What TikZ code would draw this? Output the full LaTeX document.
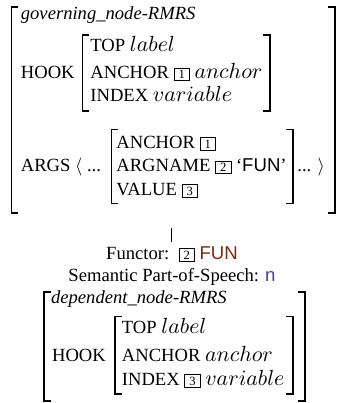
\documentclass[tikz,border=0pt]{standalone}
\usepackage{fontspec}
\setmainfont{Liberation Serif}
\newfontfamily\sansf{Liberation Sans}
\usepackage{amsmath}
\definecolor{funred}{RGB}{125,40,20}
\definecolor{posblue}{RGB}{75,60,165}
\newcommand\tagbox[1]{{\setlength\fboxsep{0.8pt}\setlength\fboxrule{0.4pt}\fbox{\fontsize{6.3pt}{7pt}\selectfont\hspace{1.3pt}#1\hspace{1.3pt}}}}
\newcommand\mv[1]{{\fontsize{10.5pt}{12pt}\selectfont$#1$}}

\begin{document}
\begin{tikzpicture}
		[x=0.5pt,y=-0.5pt,
		font=\fontsize{9.3pt}{11pt}\selectfont,
		txt/.style ={inner sep=0pt, anchor=base west},
		ctxt/.style ={inner sep=0pt, anchor=base},
		brk/.style ={draw=black, line width=0.8pt},
		tick/.style ={draw=black, line width=0.5pt},
		]
		\useasboundingbox (0,0) rectangle (337,403);

		% governing node
		\coordinate (govNW) at (11.5,7);
		\coordinate (govSE) at (335,213);
		\coordinate (hookaNW) at (82.5,35);
		\coordinate (hookaSE) at (270,111);
		\coordinate (argNW) at (111.5,129.5);
		\coordinate (argSE) at (293,203.5);

		\draw (20.5,19) node[txt] (govtitle) {\textit{governing\_node-RMRS}};
		\draw (20.5,78.3) node[txt] (hooka) {HOOK};
		\draw (90,51.7) node[txt] (topa) {TOP \mv{label}};
		\draw (90,78.3) node[txt] (anchora) {ANCHOR \tagbox{1} \mv{anchor}};
		\draw (90,101.7) node[txt] (indexa) {INDEX \mv{variable}};
		\draw (20.5,171.7) node[txt] (args) {ARGS $\langle$ ...};
		\draw (116,148) node[txt] (arganchor) {ANCHOR \tagbox{1}};
		\draw (116,171.7) node[txt] (argname) {ARGNAME \tagbox{2} `{\sansf FUN}'};
		\draw (116,195) node[txt] (argvalue) {VALUE \tagbox{3}};
		\draw (297,171.7) node[txt] (argsend) {... $\rangle$};

		\draw[brk] (govNW) ++(7,0) -- (govNW) -- (govNW|-govSE) -- ++(7,0);
		\draw[brk] (govNW-|govSE) ++(-7,0) -- (govNW-|govSE) -- (govSE) -- ++(-7,0);
		\draw[brk] (hookaNW) ++(7,0) -- (hookaNW) -- (hookaNW|-hookaSE) -- ++(7,0);
		\draw[brk] (hookaNW-|hookaSE) ++(-7,0) -- (hookaNW-|hookaSE) -- (hookaSE) -- ++(-7,0);
		\draw[brk] (argNW) ++(7,0) -- (argNW) -- (argNW|-argSE) -- ++(7,0);
		\draw[brk] (argNW-|argSE) ++(-7,0) -- (argNW-|argSE) -- (argSE) -- ++(-7,0);

		% functor
		\coordinate (govfoot) at (172,228);
		\coordinate (functop) at (172,242);
		\draw (172,259) node[ctxt] (functor) {Functor:\enspace\tagbox{2} {\sansf\color{funred}FUN}};
		\draw (172,281) node[ctxt] (pos) {Semantic Part-of-Speech: {\sansf\color{posblue}n}};
		\draw[tick] (govfoot) -- (functop);

		% dependent node
		\coordinate (depNW) at (44,292);
		\coordinate (depSE) at (305,401);
		\coordinate (hookbNW) at (115,316.5);
		\coordinate (hookbSE) at (293,394);

		\draw (50.7,303.3) node[txt] (deptitle) {\textit{dependent\_node-RMRS}};
		\draw (51.7,361.7) node[txt] (hookb) {HOOK};
		\draw (121.5,333.3) node[txt] (topb) {TOP \mv{label}};
		\draw (121.5,361.7) node[txt] (anchorb) {ANCHOR \mv{anchor}};
		\draw (121.5,385) node[txt] (indexb) {INDEX \tagbox{3} \mv{variable}};

		\draw[brk] (depNW) ++(7,0) -- (depNW) -- (depNW|-depSE) -- ++(7,0);
		\draw[brk] (depNW-|depSE) ++(-7,0) -- (depNW-|depSE) -- (depSE) -- ++(-7,0);
		\draw[brk] (hookbNW) ++(7,0) -- (hookbNW) -- (hookbNW|-hookbSE) -- ++(7,0);
		\draw[brk] (hookbNW-|hookbSE) ++(-7,0) -- (hookbNW-|hookbSE) -- (hookbSE) -- ++(-7,0);
	\end{tikzpicture}
\end{document}
